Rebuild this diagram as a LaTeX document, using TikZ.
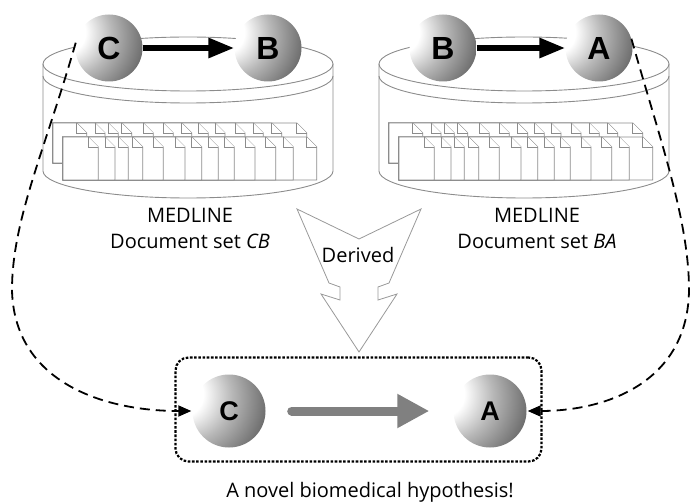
\documentclass[tikz,border=0pt]{standalone}
\usepackage{fontspec}
\setmainfont{Open Sans}
\newfontfamily\ballfont{Liberation Sans}
\usetikzlibrary{arrows.meta}
% sphere shading: light on the left, dark towards the lower right
\pgfdeclareradialshading{sphshade}{\pgfpoint{-40bp}{14bp}}{%
  color(0bp)=(white); color(16bp)=(white); color(30bp)=(black!28);
  color(46bp)=(black!55); color(60bp)=(black!80); color(80bp)=(black!95);
  color(100bp)=(black)}
\begin{document}
\begin{tikzpicture}[x=1pt,y=1pt,
  outline/.style={draw=black!45, line width=0.9pt},
  sheet/.style={draw=black!45, line width=0.8pt, fill=white, line join=miter},
  ball/.style={circle, inner sep=0pt, minimum size=67pt, shading=sphshade,
    font=\ballfont\bfseries\fontsize{32}{32}\selectfont},
  smallball/.style={ball, minimum size=73pt,
    font=\ballfont\bfseries\fontsize{27}{27}\selectfont},
  lbl/.style={font=\fontsize{20}{24}\selectfont, anchor=base, inner sep=0pt},
  relation/.style={line width=6pt, -{Triangle[length=26pt,width=19pt]}},
  link/.style={line width=1.8pt, dash pattern=on 10pt off 6pt,
    -{Triangle[length=13pt,width=11pt]}, shorten >=1pt},
  arrowbox/.style={draw=black!40, line width=0.8pt, fill=white, line join=miter},
  hypbox/.style={draw, line width=2.2pt, dash pattern=on 2.6pt off 1.6pt,
    rounded corners=13pt, minimum width=366pt, minimum height=104pt, inner sep=0pt},
  % a document store: a drum holding two rows of dog-eared pages
  drum/.pic={
    \draw[outline] (188,-64) ellipse[x radius=145pt, y radius=27pt];
    \draw[outline] (43,-76) arc[start angle=180, end angle=360, x radius=145pt, y radius=27pt];
    \draw[outline] (43,-64) -- (43,-171)
      arc[start angle=180, end angle=360, x radius=145pt, y radius=27pt] -- (333,-64);
    \foreach \e in {296.7,271.7,253.3,235,215,198.3,181.7,163.3,143.3,121.7,108.3,95,76.7} {
      \filldraw[sheet] (53,-123) -- (\e,-123) -- ({\e+10},-133) -- ({\e+10},-163) -- (53,-163) -- cycle;
      \draw[sheet] (\e,-123) -- (\e,-133) -- ({\e+10},-133);
    }
    \foreach \e in {306.7,283.3,265.7,245,224.3,208.3,191.7,175,153.3,132.7,118.3,105,88.3} {
      \filldraw[sheet] (63,-137) -- (\e,-137) -- ({\e+10},-147) -- ({\e+10},-180) -- (63,-180) -- cycle;
      \draw[sheet] (\e,-137) -- (\e,-147) -- ({\e+10},-147);
    }
  }
]
\useasboundingbox (0,0) rectangle (692,-502);

% the two MEDLINE document sets
\pic at (0,0) {drum};
\pic at (336,0) {drum};

% relations found in each set
\node[ball] (C1) at (109,-48) {C};
\node[ball] (B1) at (268,-48) {B};
\node[ball] (B2) at (443,-48) {B};
\node[ball] (A2) at (599,-48) {A};
\draw[relation] (C1) -- (B1);
\draw[relation] (B2) -- (A2);

\node[lbl] (m1) at (190,-223) {MEDLINE};
\node[lbl] (d1) at (190,-248) {Document set \textit{CB}};
\node[lbl] (m2) at (537,-223) {MEDLINE};
\node[lbl] (d2) at (537,-248) {Document set \textit{BA}};

% block arrow
\draw[arrowbox] (297,-209) -- (359,-239) -- (421,-209) -- (389,-283) -- (378,-287)
  -- (378,-300) -- (397,-294) -- (359,-352) -- (321,-294) -- (340,-300)
  -- (340,-287) -- (329,-283) -- cycle;
\node[lbl] (der) at (358,-262) {Derived};

% the hypothesis
\node[hypbox] (H) at (358.5,-409.5) {};
\node[smallball] (C3) at (229,-411) {C};
\node[smallball] (A3) at (490,-411) {A};
\draw[line width=9pt, draw=black!50, line cap=round,
  -{Triangle[length=32pt,width=32pt]}, shorten <=26pt, shorten >=24pt] (C3) -- (A3);
\node[lbl] (hyp) at (370,-497) {A novel biomedical hypothesis!};

% links from the sets to the hypothesis
\draw[link] (C1.171) .. controls (45,-150) and (12,-220) .. (12,-290)
  .. controls (14,-380) and (100,-411) .. (C3.west);
\draw[link] (A2.16) .. controls (660,-140) and (689,-220) .. (689,-290)
  .. controls (688,-380) and (610,-411) .. (A3.east);
\end{tikzpicture}
\end{document}
